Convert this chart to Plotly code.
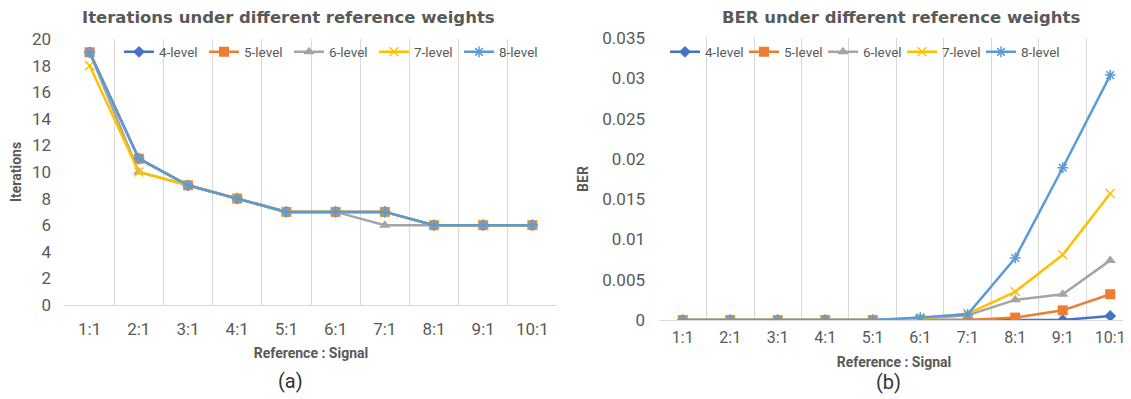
import plotly.graph_objects as go

categories = ["1:1", "2:1", "3:1", "4:1", "5:1", "6:1", "7:1", "8:1", "9:1", "10:1"]
series_names = ["4-level", "5-level", "6-level", "7-level", "8-level"]

iter_4 = [19, 11, 9, 8, 7, 7, 7, 6, 6, 6]
iter_5 = [19, 11, 9, 8, 7, 7, 7, 6, 6, 6]
iter_6 = [19, 10, 9, 8, 7, 7, 6, 6, 6, 6]
iter_7 = [18, 10, 9, 8, 7, 7, 7, 6, 6, 6]
iter_8 = [19, 11, 9, 8, 7, 7, 7, 6, 6, 6]

ber_4 = [0, 0, 0, 0, 0, 0, 0, 0, 0, 0.0005]
ber_5 = [0, 0, 0, 0, 0, 0, 0, 0.0003, 0.0012, 0.0032]
ber_6 = [0, 0, 0, 0, 0, 0.0002, 0.0006, 0.0025, 0.0032, 0.0074]
ber_7 = [0, 0, 0, 0, 0, 0.0002, 0.0008, 0.0035, 0.0081, 0.0157]
ber_8 = [0, 0, 0, 0, 0, 0.0003, 0.0007, 0.0077, 0.0189, 0.0304]

colors = ["#4472C4", "#ED7D31", "#A5A5A5", "#FFC000", "#5B9BD5"]
symbols = ["diamond", "square", "triangle-up", "x-thin", "asterisk"]
sizes = [9, 10, 10, 9, 9]

iters = [iter_4, iter_5, iter_6, iter_7, iter_8]
bers = [ber_4, ber_5, ber_6, ber_7, ber_8]

# page body has an 8px margin; figure sized so it ends at the window edge
W, H = 1123, 391
def px(x):
    return (x - 8) / W
def py(y):
    return 1 - (y - 8) / H

fig = go.Figure()

def marker(i):
    m = dict(symbol=symbols[i], size=sizes[i], color=colors[i])
    if symbols[i] in ("x-thin", "asterisk"):
        m["line"] = dict(color=colors[i], width=1.5)
    return m

for i in range(5):
    fig.add_trace(go.Scatter(
        x=categories, y=iters[i], name=series_names[i], mode="lines+markers",
        line=dict(color=colors[i], width=2.5), marker=marker(i),
        xaxis="x", yaxis="y", legend="legend"))
for i in range(5):
    fig.add_trace(go.Scatter(
        x=categories, y=bers[i], name=series_names[i], mode="lines+markers",
        line=dict(color=colors[i], width=2.5), marker=marker(i),
        xaxis="x2", yaxis="y2", legend="legend2"))

grid = "#D9D9D9"
txt = "#595959"
tickfont = dict(family="Roboto", size=17, color=txt)
titlefont = dict(family="Roboto", size=14, color=txt, weight="bold")

common_x = dict(type="category", showgrid=True, gridcolor=grid, gridwidth=1,
                tickson="boundaries", ticks="", showline=True, linecolor=grid,
                zeroline=False)
common_y = dict(showgrid=False, zeroline=False, showline=False, ticks="",
                tickfont=tickfont, ticklabelstandoff=13)

fig.update_layout(
    width=W, height=H, autosize=False,
    margin=dict(l=0, r=0, t=0, b=0, autoexpand=False),
    paper_bgcolor="white", plot_bgcolor="white",
    xaxis=dict(domain=[px(65), px(557)], range=[-0.5, 9.5], ticklabelstandoff=9,
               tickfont=tickfont,
               title=dict(text="Reference : Signal", standoff=9, font=titlefont),
               **common_x),
    yaxis=dict(domain=[py(305), py(39)], range=[0, 20], dtick=2, anchor="x",
               title=dict(text="Iterations", standoff=10, font=titlefont),
               **common_y),
    xaxis2=dict(domain=[px(659), px(1129)], range=[-0.5, 9.395], anchor="y2", ticklabelstandoff=3,
                tickfont=dict(family="Roboto", size=16, color=txt),
                title=dict(text="Reference : Signal", standoff=10, font=titlefont),
                **common_x),
    yaxis2=dict(domain=[py(320), py(38)], range=[0, 0.035], dtick=0.005, anchor="x2",
                title=dict(text="BER", standoff=10, font=titlefont),
                **common_y),
    legend=dict(orientation="h", x=px(119), y=py(52), xanchor="left", yanchor="middle",
                font=dict(family="Roboto", size=13.5, color=txt), entrywidth=40,
                bgcolor="rgba(0,0,0,0)", itemwidth=30),
    legend2=dict(orientation="h", x=px(665), y=py(52), xanchor="left", yanchor="middle",
                 font=dict(family="Roboto", size=13.5, color=txt), entrywidth=34,
                 bgcolor="rgba(0,0,0,0)", itemwidth=30),
    annotations=[
        dict(text="Iterations under different reference weights", x=px(288), y=py(18),
             xref="paper", yref="paper", showarrow=False, xanchor="center", yanchor="middle",
             font=dict(family="DejaVu Sans", size=16.5, color=txt, weight="bold")),
        dict(text="BER under different reference weights", x=px(901), y=py(18),
             xref="paper", yref="paper", showarrow=False, xanchor="center", yanchor="middle",
             font=dict(family="DejaVu Sans", size=16.5, color=txt, weight="bold")),
        dict(text="(a)", x=px(290), y=py(381), xref="paper", yref="paper",
             showarrow=False, xanchor="center", yanchor="middle",
             font=dict(family="Roboto", size=20, color="#333333")),
        dict(text="(b)", x=px(888), y=py(382), xref="paper", yref="paper",
             showarrow=False, xanchor="center", yanchor="middle",
             font=dict(family="Roboto", size=20, color="#333333")),
    ],
)

fig.write_html("out.html")
